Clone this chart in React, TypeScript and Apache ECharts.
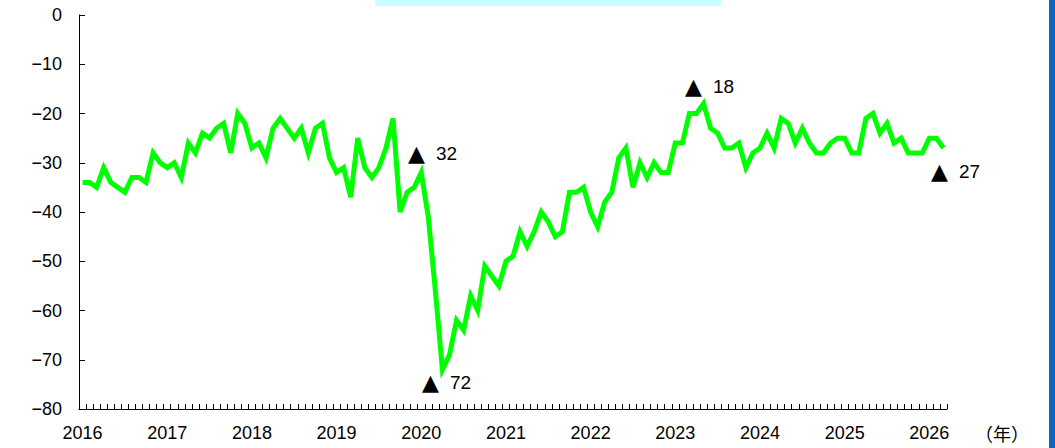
import { useEffect, useRef } from 'react';
import * as echarts from 'echarts';

// Monthly values, Jan 2016 – Mar 2026
const values: number[] = [
  -34, -34, -35, -31, -34, -35, -36, -33, -33, -34, -28, -30, // 2016
  -31, -30, -33, -26, -28, -24, -25, -23, -22, -28, -20, -22, // 2017
  -27, -26, -29, -23, -21, -23, -25, -23, -28, -23, -22, -29, // 2018
  -32, -31, -37, -25, -31, -33, -31, -27, -21, -40, -36, -35, // 2019
  -32, -41, -56, -72, -69, -62, -64, -57, -60, -51, -53, -55, // 2020
  -50, -49, -44, -47, -44, -40, -42, -45, -44, -36, -36, -35, // 2021
  -40, -43, -38, -36, -29, -27, -35, -30, -33, -30, -32, -32, // 2022
  -26, -26, -20, -20, -18, -23, -24, -27, -27, -26, -31, -28, // 2023
  -27, -24, -27, -21, -22, -26, -23, -26, -28, -28, -26, -25, // 2024
  -25, -28, -28, -21, -20, -24, -22, -26, -25, -28, -28, -28, // 2025
  -25, -25, -27, // 2026
];

const years: string[] = ['2016', '2017', '2018', '2019', '2020', '2021', '2022', '2023', '2024', '2025', '2026'];
const monthNames: string[] = ['1', '2', '3', '4', '5', '6', '7', '8', '9', '10', '11', '12'];
const categories: string[] = values.map((_, i) => `${years[Math.floor(i / 12)]}/${monthNames[i % 12]}`);

const yTicks: number[] = [-80, -70, -60, -50, -40, -30, -20, -10, 0];
const unitLabel = '（年）';
const annotationTexts: string[] = ['32', '72', '18', '27'];

export default function App() {
  const ref = useRef<HTMLDivElement>(null);
  useEffect(() => {
    if (!ref.current) return;
    const chart = echarts.init(ref.current, undefined, { renderer: 'svg' });
    const labelFont = 'Liberation Sans, Arial, sans-serif';
    const annPos = [
      [408, 154],
      [422, 383],
      [685, 87],
      [931, 172],
    ];
    const annotations = annotationTexts.map((t, k) => ({
      type: 'text',
      left: annPos[k][0],
      top: annPos[k][1] - 12,
      style: {
        text: `{t|▲}{n|${t}}`,
        rich: {
          t: { fontFamily: 'DejaVu Sans', fontSize: 22, fill: '#000', width: 28, lineHeight: 24 },
          n: { fontFamily: 'Liberation Sans Narrow, Liberation Sans, sans-serif', fontSize: 19, fill: '#000', lineHeight: 24 },
        },
      },
      z: 10,
    }));
    chart.setOption({
      animation: false,
      grid: { left: 79, top: 15, width: 868, height: 394, containLabel: false },
      xAxis: {
        type: 'category',
        data: categories,
        boundaryGap: true,
        axisLine: { show: true, onZero: false, lineStyle: { color: '#000', width: 1 } },
        axisTick: { show: true, inside: true, length: 5, interval: 0, lineStyle: { color: '#000', width: 1 } },
        axisLabel: {
          interval: (i: number) => i % 12 === 0,
          formatter: (v: string) => v.split('/')[0],
          margin: 15,
          color: '#000',
          fontSize: 18,
          fontFamily: labelFont,
        },
        splitLine: { show: false },
      },
      yAxis: {
        type: 'value',
        min: yTicks[0],
        max: yTicks[yTicks.length - 1],
        interval: 10,
        axisLine: { show: true, onZero: false, lineStyle: { color: '#000', width: 1 } },
        axisTick: { show: true, inside: true, length: 6, lineStyle: { color: '#000', width: 1 } },
        axisLabel: {
          margin: 17,
          color: '#000',
          fontSize: 18,
          fontFamily: labelFont,
          formatter: (v: number) => (v < 0 ? '\u2212' + Math.abs(v) : String(v)),
        },
        splitLine: { show: false },
      },
      series: [
        {
          type: 'line',
          data: values,
          symbol: 'none',
          lineStyle: { color: '#00ff00', width: 5, join: 'miter' },
          itemStyle: { color: '#00ff00' },
        },
      ],
      graphic: [
        { type: 'rect', shape: { x: 375, y: 0, width: 346, height: 6 }, style: { fill: '#ccffff' } },
        { type: 'rect', shape: { x: 1049, y: 0, width: 6, height: 448 }, style: { fill: '#0b64c6' } },
        {
          type: 'text',
          left: 975,
          top: 424,
          style: { text: unitLabel, fontFamily: 'Noto Sans CJK JP', fontSize: 18, fill: '#000' },
        },
        ...annotations,
      ],
    });
    return () => chart.dispose();
  }, []);
  return (
    <div
      ref={ref}
      style={{ position: 'fixed', left: 0, top: 0, width: 1055, height: 448, background: '#fff' }}
    />
  );
}
